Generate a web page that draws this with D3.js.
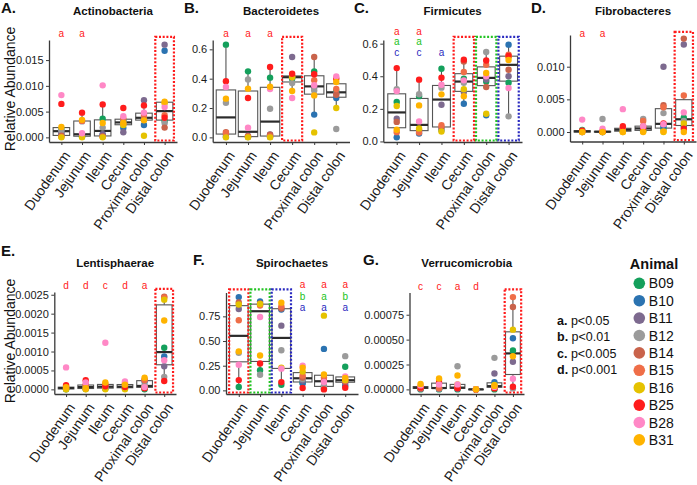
<!DOCTYPE html>
<html>
<head>
<meta charset="utf-8">
<script src="https://cdn.jsdelivr.net/npm/d3@7"></script>
<style>
body { margin: 0; background: #fff; }
text { font-family: "Liberation Sans", Arial, sans-serif; }
</style>
</head>
<body>
<div id="chart"></div>
<script>
// animals and their colours
var animals = ["B09", "B10", "B11", "B12", "B14", "B15", "B16", "B25", "B28", "B31"];
var animalColors = ["#14a05c", "#2b73b1", "#7d6a8f", "#9b9b9b", "#c9634b", "#ef6e48", "#e5c200", "#ff1c1c", "#ff88c6", "#ffb300"];

var sites = ["Duodenum", "Jejunum", "Ileum", "Cecum", "Proximal colon", "Distal colon"];

// relative abundance, one row per site, values in animal order
var actinobacteria = [
  [0.0016, 0.0006, 0.0010, 0.0014, 0.0003, 0.0001, 0.0000, 0.0065, 0.0082, 0.0020],
  [0.0002, 0.0001, 0.0004, 0.0031, 0.0003, 0.0032, 0.0000, 0.0048, 0.0008, 0.0034],
  [0.0036, 0.0005, 0.0006, 0.0019, 0.0002, 0.0001, 0.0000, 0.0064, 0.0101, 0.0028],
  [0.0033, 0.0018, 0.0010, 0.0030, 0.0026, 0.0036, 0.0024, 0.0057, 0.0041, 0.0028],
  [0.0036, 0.0024, 0.0072, 0.0040, 0.0035, 0.0044, 0.0003, 0.0062, 0.0048, 0.0033],
  [0.0032, 0.0168, 0.0180, 0.0028, 0.0019, 0.0043, 0.0066, 0.0038, 0.0059, 0.0069]
];
var bacteroidetes = [
  [0.632, 0.005, 0.020, 0.236, 0.036, 0.030, 0.000, 0.382, 0.343, 0.264],
  [0.450, 0.002, 0.010, 0.395, 0.008, 0.004, 0.000, 0.268, 0.066, 0.332],
  [0.407, 0.003, 0.020, 0.195, 0.018, 0.006, 0.000, 0.480, 0.330, 0.345],
  [0.400, 0.410, 0.548, 0.370, 0.420, 0.415, 0.410, 0.434, 0.268, 0.316],
  [0.450, 0.155, 0.340, 0.320, 0.548, 0.389, 0.034, 0.430, 0.355, 0.286],
  [0.314, 0.268, 0.300, 0.057, 0.290, 0.330, 0.200, 0.400, 0.416, 0.377]
];
var firmicutes = [
  [0.242, 0.025, 0.139, 0.320, 0.120, 0.057, 0.217, 0.450, 0.309, 0.072],
  [0.278, 0.048, 0.065, 0.290, 0.070, 0.055, 0.080, 0.379, 0.123, 0.221],
  [0.446, 0.070, 0.225, 0.330, 0.085, 0.100, 0.061, 0.391, 0.348, 0.289],
  [0.385, 0.231, 0.303, 0.360, 0.490, 0.426, 0.320, 0.502, 0.375, 0.278],
  [0.368, 0.160, 0.380, 0.549, 0.334, 0.470, 0.170, 0.497, 0.400, 0.420],
  [0.360, 0.594, 0.400, 0.154, 0.440, 0.532, 0.518, 0.525, 0.328, 0.500]
];
var fibrobacteres = [
  [0.0003, 0.0001, 0.0000, 0.0002, 0.0001, 0.0000, 0.0000, 0.0002, 0.0019, 0.0000],
  [0.0000, 0.0001, 0.0000, 0.0020, 0.0000, 0.0001, 0.0000, 0.0001, 0.0005, 0.0000],
  [0.0002, 0.0003, 0.0001, 0.0004, 0.0006, 0.0005, 0.0000, 0.0009, 0.0035, 0.0000],
  [0.0001, 0.0004, 0.0005, 0.0020, 0.0009, 0.0017, 0.0002, 0.0006, 0.0009, 0.0000],
  [0.0005, 0.0009, 0.0100, 0.0029, 0.0041, 0.0038, 0.0000, 0.0013, 0.0012, 0.0001],
  [0.0022, 0.0009, 0.0134, 0.0017, 0.0143, 0.0056, 0.0013, 0.0005, 0.0030, 0.0000]
];
var lentisphaerae = [
  [0.00000, 0.00002, 0.00001, 0.00005, 0.00003, 0.00004, 0.00000, 0.00011, 0.00058, 0.00006],
  [0.00004, 0.00001, 0.00002, 0.00008, 0.00010, 0.00012, 0.00000, 0.00024, 0.00018, 0.00003],
  [0.00006, 0.00002, 0.00003, 0.00004, 0.00010, 0.00014, 0.00000, 0.00008, 0.00123, 0.00018],
  [0.00002, 0.00005, 0.00004, 0.00008, 0.00013, 0.00016, 0.00000, 0.00006, 0.00021, 0.00012],
  [0.00000, 0.00020, 0.00008, 0.00010, 0.00026, 0.00024, 0.00005, 0.00003, 0.00006, 0.00031],
  [0.00110, 0.00087, 0.00061, 0.00033, 0.00245, 0.00243, 0.00237, 0.00022, 0.00077, 0.00182]
];
var spirochaetes = [
  [0.034, 0.945, 0.824, 0.380, 0.890, 0.710, 0.870, 0.104, 0.259, 0.395],
  [0.205, 0.900, 0.870, 0.158, 0.880, 0.860, 0.875, 0.273, 0.744, 0.353],
  [0.057, 0.820, 0.656, 0.407, 0.830, 0.850, 0.230, 0.084, 0.220, 0.889],
  [0.080, 0.070, 0.100, 0.115, 0.130, 0.150, 0.190, 0.024, 0.250, 0.230],
  [0.037, 0.420, 0.020, 0.050, 0.100, 0.130, 0.757, 0.010, 0.085, 0.161],
  [0.239, 0.050, 0.080, 0.347, 0.090, 0.100, 0.105, 0.027, 0.140, 0.125]
];
var verrucomicrobia = [
  [0.000000, 0.000010, 0.000005, 0.000020, 0.000010, 0.000015, 0.000030, 0.000020, 0.000040, 0.000055],
  [0.000000, 0.000010, 0.000005, 0.000010, 0.000012, 0.000015, 0.000095, 0.000067, 0.000050, 0.000110],
  [0.000000, 0.000010, 0.000008, 0.000233, 0.000020, 0.000015, 0.000050, 0.000012, 0.000050, 0.000140],
  [0.000000, 0.000000, 0.000002, 0.000003, 0.000000, 0.000001, 0.000000, 0.000000, 0.000002, 0.000001],
  [0.000000, 0.000073, 0.000160, 0.000317, 0.000030, 0.000020, 0.000045, 0.000010, 0.000025, 0.000035],
  [0.000390, 0.000513, 0.000277, 0.000010, 0.000827, 0.000927, 0.000600, 0.000027, 0.000107, 0.000333]
];

// significance letters: one row per comparison, one entry per site
var actinoLetters = [["a", "a", "", "", "", ""]];
var bacteroLetters = [["a", "a", "a", "", "", ""]];
var firmiLetters = [["a", "a", "", "", "", ""], ["a", "a", "", "", "", ""], ["c", "c", "a", "", "", ""]];
var fibroLetters = [["a", "a", "", "", "", ""]];
var lentiLetters = [["d", "d", "c", "d", "a", ""]];
var spiroLetters = [["", "", "", "a", "a", "a"], ["", "", "", "b", "a", "b"], ["", "", "", "a", "a", "a"]];
var verruLetters = [["c", "c", "a", "d", "", ""]];

var pKeys = ["a.", "b.", "c.", "d."];
var pLabels = ["p<0.05", "p<0.01", "p<0.005", "p<0.001"];

var red = "#ff1a1a", green = "#22c322", blue = "#2a2ac0";
var rowColors = [red, green, blue];

var panels = [
  { tag: "A.", tagX: 1, tagY: 13, title: "Actinobacteria", titleY: 15, values: actinobacteria, letters: actinoLetters,
    left: 49, right: 177, top: 40, bottom: 142, ticks: [0, 0.005, 0.010, 0.015], fmt: ".3f", letterY: [-3],
    highlight: [["Distal colon", red]], yTitle: true, boxFrac: 0.8 },
  { tag: "B.", tagX: 184, tagY: 13, title: "Bacteroidetes", titleY: 15, values: bacteroidetes, letters: bacteroLetters,
    left: 212.7, right: 349.5, top: 40, bottom: 142, ticks: [0, 0.2, 0.4, 0.6], fmt: ".1f", letterY: [-3],
    highlight: [["Cecum", red]], boxFrac: 0.88 },
  { tag: "C.", tagX: 354, tagY: 13, title: "Firmicutes", titleY: 15, values: firmicutes, letters: firmiLetters,
    left: 383.3, right: 522, top: 40, bottom: 142, ticks: [0, 0.2, 0.4, 0.6], fmt: ".1f", letterY: [-5.5, 5, 15.5],
    highlight: [["Cecum", red], ["Proximal colon", green], ["Distal colon", blue]], boxFrac: 0.8 },
  { tag: "D.", tagX: 531, tagY: 13, title: "Fibrobacteres", titleY: 15, values: fibrobacteres, letters: fibroLetters,
    left: 570, right: 696, top: 35, bottom: 141.5, domain: [-0.00145, 0.01485], ticks: [0, 0.005, 0.010], fmt: ".3f", letterY: [1.5],
    highlight: [["Distal colon", red]], boxFrac: 0.8 },
  { tag: "E.", tagX: 1, tagY: 255.5, title: "Lentisphaerae", titleY: 267, values: lentisphaerae, letters: lentiLetters,
    left: 54.3, right: 176, top: 292, bottom: 394, ticks: [0, 0.0005, 0.001, 0.0015, 0.002, 0.0025], fmt: ".4f", letterY: [-3],
    highlight: [["Distal colon", red]], yTitle: true, boxFrac: 0.8 },
  { tag: "F.", tagX: 193, tagY: 265, title: "Spirochaetes", titleY: 267, values: spirochaetes, letters: spiroLetters,
    left: 226, right: 358, top: 292.5, bottom: 394, ticks: [0, 0.25, 0.5, 0.75], fmt: ".2f", letterY: [-5, 7, 18.5],
    highlight: [["Duodenum", red], ["Jejunum", green], ["Ileum", blue]], boxFrac: 0.88 },
  { tag: "G.", tagX: 363, tagY: 265, title: "Verrucomicrobia", titleY: 267, values: verrucomicrobia, letters: verruLetters,
    left: 409.5, right: 524, top: 292.5, bottom: 394, ticks: [0, 0.00025, 0.0005, 0.00075], fmt: ".5f", letterY: [-3],
    highlight: [["Distal colon", red]], boxFrac: 0.8 }
];

var svgWidth = 697;
var svgHeight = 485;

var svg = d3.select("#chart")
  .append("svg")
  .attr("width", svgWidth)
  .attr("height", svgHeight)
  .style("background", "#fff");

function boxStats(vals) {
  var s = vals.slice().sort(d3.ascending);
  var q1 = d3.quantile(s, 0.25), med = d3.quantile(s, 0.5), q3 = d3.quantile(s, 0.75);
  var iqr = q3 - q1;
  var lo = d3.min(s.filter(v => v >= q1 - 1.5 * iqr));
  var hi = d3.max(s.filter(v => v <= q3 + 1.5 * iqr));
  return { q1: q1, med: med, q3: q3, lo: lo, hi: hi };
}

panels.forEach(function(p) {
  var g = svg.append("g");

  var x = d3.scalePoint().domain(sites).range([p.left, p.right]).padding(0.6);
  var step = x.step();
  var all = p.values.flat();
  var lo = d3.min(all), hi = d3.max(all), pad = (hi - lo) * 0.05;
  var y = d3.scaleLinear()
    .domain(p.domain || [lo - pad, hi + pad])
    .range([p.bottom, p.top]);

  // axes
  var yAx = g.append("g")
    .attr("transform", `translate(${p.left},0)`)
    .call(d3.axisLeft(y).tickValues(p.ticks).tickFormat(d3.format(p.fmt)).tickSize(3).tickSizeOuter(0).tickPadding(2.5));
  yAx.selectAll("text").attr("font-size", "11px").attr("fill", "#1a1a1a");

  var xAx = g.append("g")
    .attr("transform", `translate(0,${p.bottom})`)
    .call(d3.axisBottom(x).tickSize(3).tickSizeOuter(0));
  xAx.selectAll("text")
    .attr("font-size", "14px")
    .attr("fill", "#1a1a1a")
    .attr("text-anchor", "end")
    .attr("x", 0).attr("y", 0).attr("dy", null)
    .attr("transform", "translate(9,13.5) rotate(-55)");
  [yAx, xAx].forEach(function(a) {
    a.select(".domain").attr("stroke", "#3a3a3a").attr("stroke-width", 1.3);
    a.selectAll(".tick line").attr("stroke", "#3a3a3a").attr("stroke-width", 1);
  });

  // boxplots
  var boxW = step * p.boxFrac;
  p.values.forEach(function(vals, i) {
    var st = boxStats(vals);
    var cx = x(sites[i]);
    g.append("line").attr("x1", cx).attr("x2", cx).attr("y1", y(st.hi)).attr("y2", y(st.q3))
      .attr("stroke", "#555").attr("stroke-width", 1.1);
    g.append("line").attr("x1", cx).attr("x2", cx).attr("y1", y(st.q1)).attr("y2", y(st.lo))
      .attr("stroke", "#555").attr("stroke-width", 1.1);
    g.append("rect").attr("x", cx - boxW / 2).attr("width", boxW)
      .attr("y", y(st.q3)).attr("height", Math.max(0.5, y(st.q1) - y(st.q3)))
      .attr("fill", "#fff").attr("stroke", "#555").attr("stroke-width", 1.1);
    g.append("line").attr("x1", cx - boxW / 2).attr("x2", cx + boxW / 2).attr("y1", y(st.med)).attr("y2", y(st.med))
      .attr("stroke", "#2b2b2b").attr("stroke-width", 2.2);
  });

  // points
  p.values.forEach(function(vals, i) {
    g.selectAll(null)
      .data(vals)
      .enter()
      .append("circle")
      .attr("cx", x(sites[i]))
      .attr("cy", d => y(d))
      .attr("r", 3.2)
      .attr("fill", (d, j) => animalColors[j]);
  });

  // dotted highlight boxes
  p.highlight.forEach(function(h) {
    var cx = x(h[0]);
    g.append("rect")
      .attr("x", cx - step / 2 + 1).attr("width", step - 2)
      .attr("y", p.top - 3.2).attr("height", p.bottom - 1.5 - (p.top - 3.2))
      .attr("fill", "none").attr("stroke", h[1]).attr("stroke-width", 2.2)
      .attr("stroke-dasharray", "2,1.7");
  });

  // significance letters
  p.letters.forEach(function(row, r) {
    row.forEach(function(l, i) {
      if (!l) return;
      g.append("text")
        .attr("x", x(sites[i])).attr("y", p.top + p.letterY[r])
        .attr("text-anchor", "middle").attr("font-size", "10px")
        .attr("fill", rowColors[r]).text(l);
    });
  });

  // titles
  g.append("text").attr("x", p.tagX).attr("y", p.tagY)
    .attr("font-size", "15px").attr("font-weight", "bold").attr("fill", "#111").text(p.tag);
  g.append("text").attr("x", (p.left + p.right) / 2).attr("y", p.titleY)
    .attr("text-anchor", "middle").attr("font-size", "11.5px").attr("font-weight", "bold").attr("fill", "#111")
    .text(p.title);

  if (p.yTitle) {
    g.append("text")
      .attr("transform", `translate(15,${(p.top + p.bottom) / 2 - 2}) rotate(-90)`)
      .attr("text-anchor", "middle").attr("font-size", "14px").attr("fill", "#111")
      .text("Relative Abundance");
  }
});

// p-value key
pKeys.forEach(function(k, i) {
  var t = svg.append("text").attr("x", 557).attr("y", 325 + i * 16.3)
    .attr("font-size", "12.5px").attr("fill", "#111");
  t.append("tspan").attr("font-weight", "bold").text(k);
  t.append("tspan").text(" " + pLabels[i]);
});

// animal legend
svg.append("text").attr("x", 654).attr("y", 269)
  .attr("text-anchor", "middle").attr("font-size", "14.5px").attr("font-weight", "bold").attr("fill", "#111")
  .text("Animal");
var legend = svg.selectAll(".legendItem")
  .data(animals)
  .enter()
  .append("g")
  .attr("transform", (d, i) => `translate(639.3,${283.3 + i * 17.4})`);
legend.append("circle").attr("r", 5.8).attr("fill", (d, i) => animalColors[i]);
legend.append("text").attr("x", 9.5).attr("y", 5)
  .attr("font-size", "14px").attr("fill", "#111").text(d => d);
</script>
</body>
</html>
